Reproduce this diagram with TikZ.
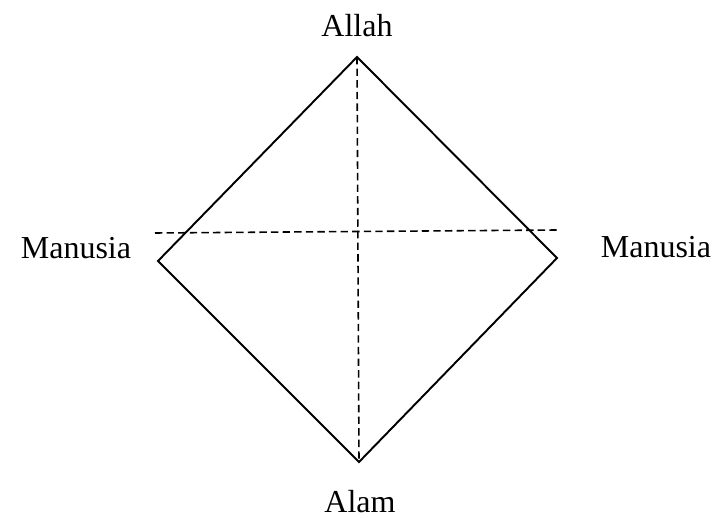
\documentclass[tikz,border=0pt]{standalone}
\usepackage{fontspec}
\setmainfont{Liberation Serif}
\usetikzlibrary{positioning}

\begin{document}
\begin{tikzpicture}[
	line/.style={line width=1.1pt, line join=miter},
	axis/.style={line width=0.9pt, dash pattern=on 4.2pt off 2.4pt},
	label/.style={font=\fontsize{18.2}{21}\selectfont, inner sep=0pt, anchor=base}
	]
	
	\useasboundingbox (-7.14,5.18) rectangle (7.1,-5.16);
	
	% ======================
	% Eckpunkte
	% ======================
	\coordinate (top) at (0,4.04);
	\coordinate (left) at (-3.98,-0.04);
	\coordinate (right) at (4.0,0.02);
	\coordinate (bottom) at (0.04,-4.06);
	
	\coordinate (hl) at (-4.04,0.52);
	\coordinate (hr) at (4.0,0.58);
	
	% Raute
	\draw[line] (top) -- (right) -- (bottom) -- (left) -- cycle;
	
	% Achsen (gestrichelt)
	\draw[axis] (top) -- (bottom);
	\draw[axis] (hl) -- (hr);
	
	% ======================
	% Beschriftungen
	% ======================
	\node[label] (allah) at (0,4.44) {Allah};
	\node[label] (manusiaL) at (-5.62,0) {Manusia};
	\node[label] (manusiaR) at (5.98,0.02) {Manusia};
	\node[label] (alam) at (0.06,-5.06) {Alam};
	
\end{tikzpicture}
\end{document}
